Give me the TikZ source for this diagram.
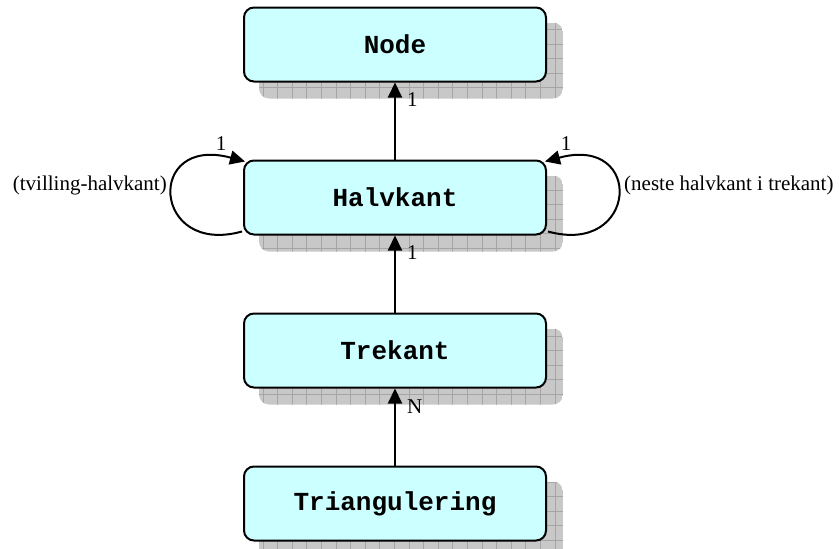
\documentclass[tikz,border=0pt]{standalone}
\usepackage{fontspec}
\setmainfont{Liberation Serif}
\setmonofont{Liberation Mono}
\usetikzlibrary{arrows.meta,positioning,backgrounds}
\definecolor{BoxFill}{RGB}{204,255,255}
\definecolor{Shade}{RGB}{200,200,200}
\definecolor{ShadeGrid}{RGB}{165,165,165}
\tikzset{
  classbox/.style={draw=black,line width=2pt,rounded corners=10pt,fill=BoxFill,minimum width=302pt,minimum height=74pt,font=\fontsize{26}{30}\selectfont\ttfamily\bfseries},
  link/.style={-{Triangle[length=15pt,width=14pt]},line width=2pt,draw=black},
  mult/.style={font=\fontsize{21}{24}\selectfont,inner sep=0pt},
  role/.style={font=\fontsize{21}{24}\selectfont,inner sep=0pt}
}
\newcommand\gridshadow[1]{%
  \begin{scope}[on background layer]
  \begin{scope}
    \clip[rounded corners=10pt] ([shift={(16,16)}]#1.south west) rectangle ([shift={(16,16)}]#1.north east);
    \fill[Shade] ([shift={(16,16)}]#1.south west) rectangle ([shift={(16,16)}]#1.north east);
    \draw[ShadeGrid,line width=0.6pt,step=14.6pt] ([shift={(16,16)}]#1.south west) grid ([shift={(16,16)}]#1.north east);
  \end{scope}
  \end{scope}}

\begin{document}
\begin{tikzpicture}[x=1pt,y=-1pt,node distance=77pt]
\useasboundingbox (0,0) rectangle (839,549);
\node[classbox] (node) at (395,44.5) {Node};
\node[classbox,below=of node] (halv) {Halvkant};
\node[classbox,below=of halv] (trek) {Trekant};
\node[classbox,below=of trek] (tri) {Triangulering};
\gridshadow{node} \gridshadow{halv} \gridshadow{trek} \gridshadow{tri}
\draw[link] (halv)--(node); \draw[link] (trek)--(halv); \draw[link] (tri)--(trek);
\node[mult,anchor=west] (m1) at ([shift={(12,17.5)}]node.south) {1};
\node[mult,anchor=west] (m2) at ([shift={(12,17)}]halv.south) {1};
\node[mult,anchor=west] (m3) at ([shift={(12,18.5)}]trek.south) {N};
\draw[link] ([shift={(-1,-4)}]halv.south west) .. controls +(-90,25) and +(-100,-27) .. ([shift={(2,2)}]halv.north west);
\draw[link] ([shift={(1,-4)}]halv.south east) .. controls +(90,25) and +(100,-27) .. ([shift={(-2,2)}]halv.north east);
\node[mult] (m4) at ([shift={(-22,-15.5)}]halv.north west) {1};
\node[mult] (m5) at ([shift={(19,-15.5)}]halv.north east) {1};
\node[role,anchor=east] (twin) at ([shift={(-76,-12)}]halv.west) {(tvilling-halvkant)};
\node[role,anchor=west] (next) at ([shift={(77,-12)}]halv.east) {(neste halvkant i trekant)};
\end{tikzpicture}
\end{document}
